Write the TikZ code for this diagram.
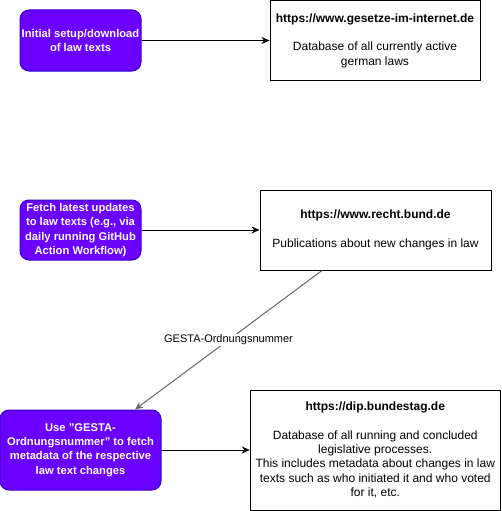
\documentclass[tikz,border=0pt]{standalone}
\usepackage{fontspec}
\setmainfont{Liberation Sans}
\usetikzlibrary{shapes,arrows,arrows.meta,positioning}
\definecolor{taskfill}{HTML}{6A00FF}
\definecolor{taskdraw}{HTML}{3700CC}
\definecolor{edgegray}{HTML}{666666}
\tikzstyle{task} = [rectangle, rounded corners=9pt, fill=taskfill, draw=taskdraw, text=white, align=center, inner sep=1pt, font=\fontsize{11.2}{14.4}\selectfont\bfseries]
\tikzstyle{source} = [rectangle, draw, fill=white, align=center, inner sep=2pt, font=\fontsize{12}{14.4}\selectfont]
\tikzstyle{line} = [draw, -{Stealth[length=8pt,width=7pt]}]

\begin{document}
\begin{tikzpicture}[x=1pt, y=-1pt, line width=1pt]
			\useasboundingbox (0,0) rectangle (501,511);

			\node [task, minimum width=121pt, minimum height=61pt] (setup) at (80.5, 40.5) {Initial setup/download\\of law texts};
			\node [source, minimum width=210pt, minimum height=79pt] (gesetze) at (375, 40.5) {\textbf{https://www.gesetze-im-internet.de}\\[14.4pt]Database of all currently active\\german laws};

			\node [task, minimum width=121pt, minimum height=60pt] (fetch) at (80.5, 230) {Fetch latest updates\\to law texts (e.g., via\\daily running GitHub\\Action Workflow)};
			\node [source, minimum width=231pt, minimum height=80pt] (recht) at (375.5, 230) {\textbf{https://www.recht.bund.de}\\[14.4pt]Publications about new changes in law};

			\node [task, minimum width=161pt, minimum height=80pt] (gesta) at (80.5, 450) {Use "GESTA-\\Ordnungsnummer" to fetch\\metadata of the respective\\law text changes};
			\node [source, minimum width=250pt, minimum height=120pt] (dip) at (375.25, 450) {\textbf{https://dip.bundestag.de}\\[14.4pt]Database of all running and concluded\\legislative processes.\\This includes metadata about changes in law\\texts such as who initiated it and who voted\\for it, etc.};

			\path [line] (setup) -- (gesetze);
			\path [line] (fetch) -- (recht);
			\path [line] (gesta) -- (dip);
			\path [line, draw=edgegray] ([xshift=-53.5pt]recht.south) -- node [fill=white, text=black, inner sep=1pt, font=\fontsize{11}{13}\selectfont] {GESTA-Ordnungsnummer} ([xshift=54.5pt]gesta.north);
		\end{tikzpicture}
\end{document}
